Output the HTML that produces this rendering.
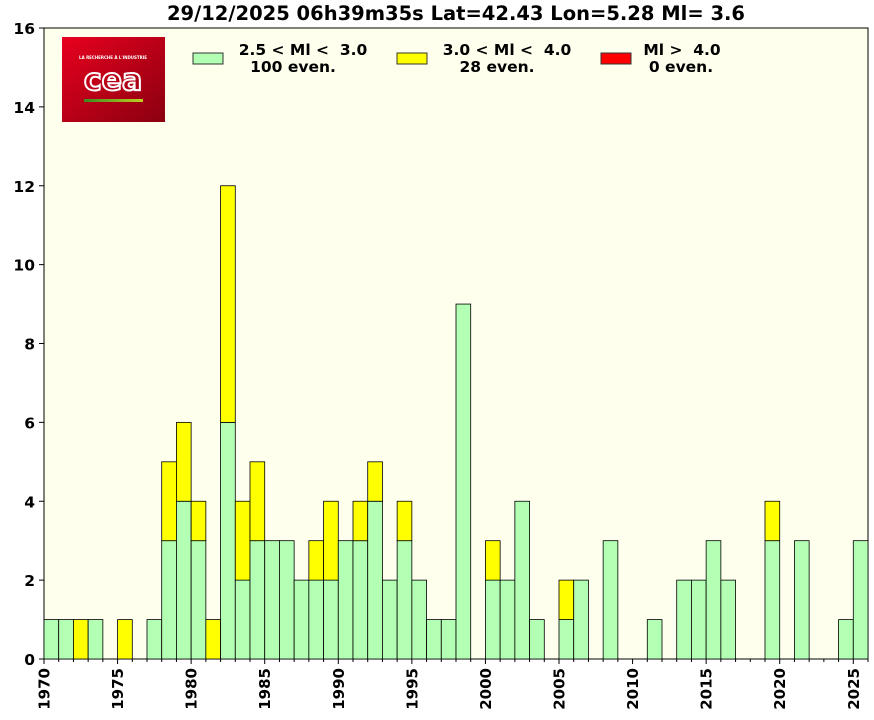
<!DOCTYPE html>
<html><head><meta charset="utf-8"><style>
body{margin:0;background:#fff;width:874px;height:716px;overflow:hidden;font-family:"DejaVu Sans","Liberation Sans",sans-serif}
svg text{font-family:"DejaVu Sans","Liberation Sans",sans-serif;font-weight:bold;white-space:pre}
</style></head><body>
<svg id="c" width="874" height="716">
<defs><linearGradient id="lg" x1="0" y1="0" x2="1" y2="1"><stop offset="0" stop-color="#e8001e"/><stop offset="1" stop-color="#8a0010"/></linearGradient>
<linearGradient id="lg2"><stop offset="0" stop-color="#3a8a20"/><stop offset="1" stop-color="#c0d020"/></linearGradient></defs>
<text x="456" y="20" font-size="19.5" text-anchor="middle">29/12/2025 06h39m35s Lat=42.43 Lon=5.28 Ml= 3.6</text>
<rect x="44" y="28" width="824" height="631" fill="#ffffee" stroke="#000" stroke-width="1"/>
<g id="bars"></g>
<g id="axes"></g>
<g>
<rect x="62" y="37" width="103" height="85" fill="url(#lg)"/>
<text x="113" y="59" font-size="4" fill="#fff" text-anchor="middle">LA RECHERCHE À L'INDUSTRIE</text>
<text x="113" y="90" font-size="30" fill="none" stroke="#fff" stroke-width="2" font-weight="normal" text-anchor="middle">cea</text>
<rect x="84" y="99" width="59" height="3" fill="url(#lg2)"/>
</g>
<g>
<rect x="193" y="53" width="30" height="11" fill="#b3ffb3" stroke="#333"/>
<text x="303" y="55" font-size="15.5" text-anchor="middle">2.5 &lt; Ml &lt;  3.0</text>
<text x="293" y="72" font-size="15.5" text-anchor="middle">100 even.</text>
<rect x="397" y="53" width="30" height="11" fill="#ffff00" stroke="#333"/>
<text x="507" y="55" font-size="15.5" text-anchor="middle">3.0 &lt; Ml &lt;  4.0</text>
<text x="497" y="72" font-size="15.5" text-anchor="middle">28 even.</text>
<rect x="601" y="53" width="30" height="11" fill="#ff0000" stroke="#333"/>
<text x="682" y="55" font-size="15.5" text-anchor="middle">Ml &gt;  4.0</text>
<text x="681" y="72" font-size="15.5" text-anchor="middle">0 even.</text>
</g>
</svg>
<script>
const years=[];for(let y=1970;y<=2025;y++)years.push(y);
const lowCounts=[1,1,0,1,0,0,0,1,3,4,3,0,6,2,3,3,3,2,2,2,3,3,4,2,3,2,1,1,9,0,2,2,4,1,0,1,2,0,3,0,0,1,0,2,2,3,2,0,0,3,0,3,0,0,1,3];
const midCounts=[0,0,1,0,0,1,0,0,2,2,1,1,6,2,2,0,0,0,1,2,0,1,1,0,1,0,0,0,0,0,1,0,0,0,0,1,0,0,0,0,0,0,0,0,0,0,0,0,0,1,0,0,0,0,0,0];
const highCounts=years.map(()=>0);
const yTicks=[0,2,4,6,8,10,12,14,16];
const xTicks=[1970,1975,1980,1985,1990,1995,2000,2005,2010,2015,2020,2025];
const X0=44,X1=868,Y0=659,Y1=28;
const sx=v=>X0+(v-1970)*(X1-X0)/56;
const sy=v=>Y0-v*(Y0-Y1)/16;
const NS='http://www.w3.org/2000/svg';
const bars=document.getElementById('bars'),axes=document.getElementById('axes');
function mk(tag,at,par){const e=document.createElementNS(NS,tag);for(const k in at)e.setAttribute(k,at[k]);par.appendChild(e);return e;}
years.forEach((yr,i)=>{
  const x=sx(yr),w=sx(yr+1)-x;
  const stacks=[[lowCounts[i],'#b3ffb3','low'],[midCounts[i],'#ffff00','mid'],[highCounts[i],'#ff0000','high']];
  let base=0;
  stacks.forEach(([v,col,nm])=>{
    if(v>0){
      const r=mk('rect',{x:x,y:sy(base+v),width:w,height:sy(base)-sy(base+v),fill:col,stroke:'#000','stroke-width':0.8},bars);
      
      
      base+=v;
    }
  });
});
yTicks.forEach(t=>{
  mk('line',{x1:X0-5,x2:X0,y1:sy(t),y2:sy(t),stroke:'#000'},axes);
  const tx=mk('text',{x:X0-9,y:sy(t)+6,'font-size':15.5,'text-anchor':'end'},axes);
  tx.textContent=t;
  
  
});
years.concat([2026]).forEach(yr=>{
  mk('line',{x1:sx(yr),x2:sx(yr),y1:Y0,y2:Y0+(xTicks.includes(yr)?5:3),stroke:'#000'},axes);
});
xTicks.forEach(t=>{
  const x=sx(t);
  const tx=mk('text',{x:x+5.5,y:Y0+9,'font-size':15,'text-anchor':'end',transform:'rotate(-90 '+(x+5.5)+' '+(Y0+9)+')'},axes);
  tx.textContent=t;
  
  
});
</script>
</body></html>
